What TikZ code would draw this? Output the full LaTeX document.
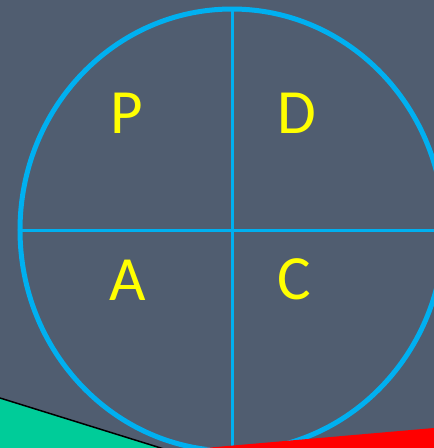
\documentclass[tikz,border=0pt]{standalone}
\usepackage{fontspec}
\setmainfont{Carlito}
\definecolor{bgc}{HTML}{505D70}
\definecolor{ringc}{HTML}{00B0F0}
\definecolor{letc}{HTML}{FFFF00}
\definecolor{grn}{HTML}{00CC99}
\definecolor{rd}{HTML}{FF0000}
\begin{document}
\begin{tikzpicture}[x=1pt,y=-1pt,
  letter/.style={text=letc,font=\fontsize{63}{63}\selectfont,inner sep=0pt},
  ring/.style={draw=ringc,line width=5pt},
  divider/.style={draw=ringc,line width=3pt}]
\fill[bgc] (0,0) rectangle (434,448);
\useasboundingbox (0,0) rectangle (434,448);
\coordinate (c) at (232,230);
\coordinate (top) at (232,9);
\coordinate (bot) at (232,452);
\coordinate (lft) at (20,230);
\coordinate (rgt) at (434,230);
\draw[divider] (top) -- (bot);
\draw[divider] (lft) -- (rgt);
\draw[ring] (c) ellipse [x radius=212, y radius=221];
\node[letter] (P) at (127,113) {P};
\node[letter] (D) at (297,113) {D};
\node[letter] (A) at (128,280) {A};
\node[letter] (C) at (294,279) {C};
\fill[grn] (0,398) -- (164,449) -- (0,449) -- cycle;
\draw[black,line width=1.5pt] (0,398) -- (164,449);
\fill[rd] (193,449) -- (434,428) -- (434,449) -- cycle;
\end{tikzpicture}
\end{document}
